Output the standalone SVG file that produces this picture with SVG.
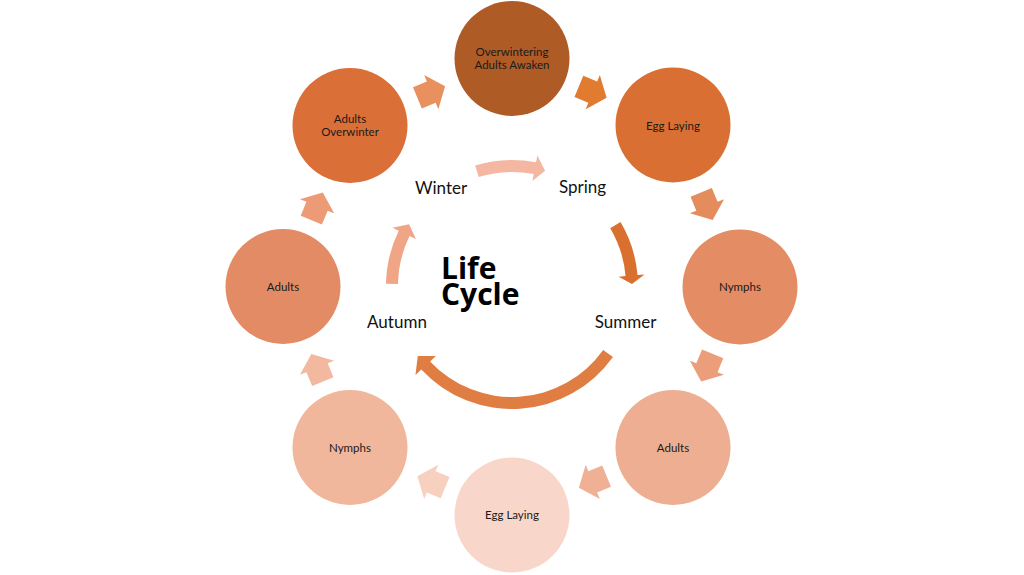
<svg xmlns="http://www.w3.org/2000/svg" width="1024" height="575" viewBox="0 0 1024 575">
<defs>
<style>
.lbl{font-family:Lato,"Liberation Sans",sans-serif;font-size:11.5px;fill:#1a1a1a;text-anchor:middle}
.season{font-family:Lato,"Liberation Sans",sans-serif;font-size:17px;fill:#111;text-anchor:middle}
.title{font-family:"Open Sans","Liberation Sans",sans-serif;font-size:30px;font-weight:bold;fill:#000}
</style>
<path id="blk" d="M-15,-11.5 L0,-11.5 L0,-18.5 L15,0 L0,18.5 L0,11.5 L-15,11.5 Z"/>
</defs>
<rect width="1024" height="575" fill="#ffffff"/>

<g id="connectors">
<use href="#blk" transform="translate(431.25,92.06) rotate(-22.5)" fill="#E8905E"/>
<use href="#blk" transform="translate(592.75,92.06) rotate(22.5)" fill="#E07B30"/>
<use href="#blk" transform="translate(706.94,206.25) rotate(67.5)" fill="#E48C5C"/>
<use href="#blk" transform="translate(706.94,367.75) rotate(112.5)" fill="#EC9E7A"/>
<use href="#blk" transform="translate(592.75,481.94) rotate(157.5)" fill="#F0B096"/>
<use href="#blk" transform="translate(431.25,481.94) rotate(202.5)" fill="#F7D0C0"/>
<use href="#blk" transform="translate(317.06,367.75) rotate(247.5)" fill="#F2B9A0"/>
<use href="#blk" transform="translate(317.06,206.25) rotate(292.5)" fill="#EC9B76"/>

<path id="arc-winter-spring" fill="#F4B8A2" d="M475.16,165.51 A126,126 0 0 1 536.04,162.32 L537.38,155.45 L545.07,170.64 L532.42,180.97 L533.75,174.10 A114,114 0 0 0 478.67,176.98 Z"/>
<path id="arc-spring-summer" fill="#D9702F" d="M620.56,222.05 A126,126 0 0 1 637.52,275.02 L644.49,274.40 L631.98,283.91 L618.59,276.67 L625.57,276.06 A114,114 0 0 0 610.22,228.14 Z"/>
<path id="arc-summer-autumn" fill="#E07D42" d="M612.95,357.01 A124,124 0 0 1 421.31,369.57 L415.46,375.02 L417.77,356.01 L435.93,355.93 L430.08,361.38 A112,112 0 0 0 603.18,350.04 Z"/>
<path id="arc-autumn-winter" fill="#EFA586" d="M386.02,283.80 A126,126 0 0 1 398.75,230.76 L392.46,227.69 L409.14,224.20 L415.83,239.09 L409.54,236.02 A114,114 0 0 0 398.02,284.01 Z"/>
</g>

<g id="node-overwintering">
<circle cx="512" cy="58.5" r="57.5" fill="#AF5B26"/>
<text class="lbl" x="512" y="55.5">Overwintering</text>
<text class="lbl" x="512" y="69">Adults Awaken</text>
</g>
<g id="node-egg-laying-1">
<circle cx="673" cy="125" r="57.5" fill="#D96F32"/>
<text class="lbl" x="673" y="129.5">Egg Laying</text>
</g>
<g id="node-nymphs-1">
<circle cx="740" cy="287" r="57.5" fill="#E48C64"/>
<text class="lbl" x="740" y="291">Nymphs</text>
</g>
<g id="node-adults-1">
<circle cx="673" cy="447.5" r="57.5" fill="#EEAE91"/>
<text class="lbl" x="673" y="451.5">Adults</text>
</g>
<g id="node-egg-laying-2">
<circle cx="512" cy="515" r="57.5" fill="#F8D6C9"/>
<text class="lbl" x="512" y="519">Egg Laying</text>
</g>
<g id="node-nymphs-2">
<circle cx="350" cy="447.5" r="57.5" fill="#F0B79C"/>
<text class="lbl" x="350" y="451.5">Nymphs</text>
</g>
<g id="node-adults-2">
<circle cx="283" cy="286.5" r="57.5" fill="#E38B65"/>
<text class="lbl" x="283" y="290.5">Adults</text>
</g>
<g id="node-adults-overwinter">
<circle cx="350" cy="125.5" r="57.5" fill="#DA7038"/>
<text class="lbl" x="350" y="122.5">Adults</text>
<text class="lbl" x="350" y="136">Overwinter</text>
</g>

<g id="seasons">
<text class="season" x="441" y="193.5">Winter</text>
<text class="season" x="582.5" y="193">Spring</text>
<text class="season" x="625.5" y="328">Summer</text>
<text class="season" x="397" y="328">Autumn</text>
</g>
<g id="center-title">
<text class="title" x="441" y="279">Life</text>
<text class="title" x="441" y="304.5">Cycle</text>
</g>
</svg>
